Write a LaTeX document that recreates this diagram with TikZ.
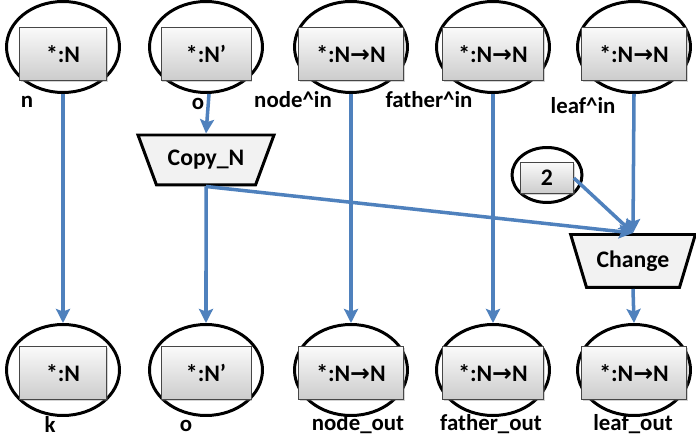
\documentclass[tikz,border=0pt]{standalone}
\usepackage{fontspec}
\setmainfont{Carlito}
\newfontfamily\arrowfont{DejaVu Sans}
\usetikzlibrary{arrows.meta}
\usetikzlibrary{positioning}
\usetikzlibrary{shapes.geometric}
\usetikzlibrary{shadows}
\tikzset{>={Stealth[length=8pt,width=8pt,inset=1.5pt]}}
\definecolor{flowblue}{RGB}{79,129,189}
\newcommand{\maparrow}{{\arrowfont\bfseries →}}
\def\toprow{47}
\def\botrow{370}

\begin{document}
\begin{tikzpicture}[x=0.02cm,y=-0.02cm,
	var/.style={ellipse, draw, line width=1.7pt, minimum width=2.26cm, minimum height=1.82cm},
	typebox/.style={rectangle, draw=gray!55!black, thin, top color=gray!4, bottom color=gray!40,
		minimum height=1.06cm, font=\fontsize{13.5}{15}\bfseries,
		drop shadow={shadow xshift=0.8pt, shadow yshift=-0.8pt, opacity=0.35}},
	func/.style={trapezium, shape border rotate=180, trapezium stretches=true, draw,
		line width=1.7pt, fill=gray!10, font=\fontsize{13.5}{15}\bfseries},
	lbl/.style={font=\fontsize{13}{15}\bfseries},
	flow/.style={->, flowblue, line width=2pt},
	]
	\useasboundingbox (0,0) rectangle (696,438);

	% variables: inputs on top, outputs below
	\foreach \x/\t/\w [count=\i] in {63/{*:N}/1.74, 206/{*:N’}/1.8, 351/{*:N\maparrow N}/2.1,
		493/{*:N\maparrow N}/2.02, 634/{*:N\maparrow N}/2.1}{
		\node[var] (in\i) at (\x,\toprow) {};
		\node[typebox, minimum width=\w cm] (inb\i) at (\x,\toprow+7) {\t};
		\node[var] (out\i) at (\x,\botrow) {};
		\node[typebox, minimum width=\w cm] (outb\i) at (\x,\botrow+3) {\t};
	}

	\node[lbl] (n) at (27,102) {n};
	\node[lbl] (oin) at (198,104) {o};
	\node[lbl] (nodein) at (293,100) {node\textasciicircum in};
	\node[lbl] (fatherin) at (429,100) {father\textasciicircum in};
	\node[lbl] (leafin) at (583,106) {leaf\textasciicircum in};

	\node[lbl] (k) at (50,424) {k};
	\node[lbl] (oout) at (186,426) {o};
	\node[lbl] (nodeout) at (358,424) {node\_out};
	\node[lbl] (fatherout) at (491,424) {father\_out};
	\node[lbl] (leafout) at (633,424) {leaf\_out};

	% functions
	\node[func, minimum width=2.74cm, minimum height=1cm, trapezium angle=62] (copy) at (206,160) {Copy\_N};
	\node[func, minimum width=2.5cm, minimum height=1.06cm, trapezium angle=66] (change) at (633,261) {Change};

	% constant
	\node[var, minimum width=1.4cm, minimum height=1.1cm] (c2) at (547,175) {};
	\node[typebox, minimum width=1.06cm, minimum height=0.62cm] (c2b) at (547,178) {2};

	% flows
	\draw[flow] (in1) -- (out1);
	\draw[flow] ([xshift=3*0.02cm]in2.south) -- (copy.north);
	\draw[flow] (copy.south) -- (out2);
	\draw[flow] (copy.south) -- (change.north);
	\draw[flow] (in3) -- (out3);
	\draw[flow] (in4) -- (out4);
	\draw[flow] (in5.south) -- (change.north);
	\draw[flow] (c2b.east) -- (change.north);
	\draw[flow] (change.south) -- (out5.north);
\end{tikzpicture}
\end{document}
